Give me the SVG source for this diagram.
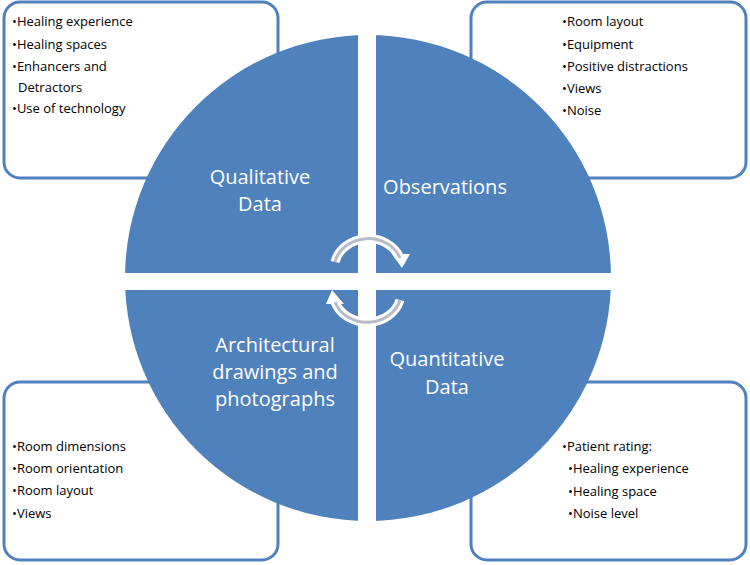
<svg xmlns="http://www.w3.org/2000/svg" width="750" height="565" viewBox="0 0 750 565">
<defs><style>
.box{fill:#fff;stroke:#4f81bd;stroke-width:3}
.q{fill:#4f81bd}
.t{font-family:"Open Sans","DejaVu Sans",sans-serif;font-size:13px;fill:#000}
.l{font-family:"Open Sans","DejaVu Sans",sans-serif;font-size:20px;fill:#fff;text-anchor:middle}
.aw{fill:none;stroke:#fff;stroke-width:9}
.ag{fill:none;stroke:#b8bcc8;stroke-width:3}
</style>
<clipPath id="c"><circle cx="368" cy="278" r="243"/></clipPath></defs>
<g id="box-tl"><rect class="box" x="4" y="2" width="274" height="176" rx="16"/>
<text class="t" x="12" y="26">•Healing experience</text><text class="t" x="12" y="49">•Healing spaces</text><text class="t" x="12" y="71">•Enhancers and</text><text class="t" x="18" y="92">Detractors</text><text class="t" x="12" y="113">•Use of technology</text></g>
<g id="box-tr"><rect class="box" x="471" y="2" width="275" height="176" rx="16"/>
<text class="t" x="562" y="26">•Room layout</text><text class="t" x="562" y="49">•Equipment</text><text class="t" x="562" y="71">•Positive distractions</text><text class="t" x="562" y="93">•Views</text><text class="t" x="562" y="115">•Noise</text></g>
<g id="box-bl"><rect class="box" x="4" y="382" width="274" height="178" rx="16"/>
<text class="t" x="12" y="451">•Room dimensions</text><text class="t" x="12" y="473">•Room orientation</text><text class="t" x="12" y="495">•Room layout</text><text class="t" x="12" y="518">•Views</text></g>
<g id="box-br"><rect class="box" x="471" y="382" width="275" height="178" rx="16"/>
<text class="t" x="562" y="451">•Patient rating:</text><text class="t" x="568" y="473">•Healing experience</text><text class="t" x="568" y="496">•Healing space</text><text class="t" x="568" y="518">•Noise level</text></g>
<g clip-path="url(#c)">
<g id="q-tl"><rect class="q" x="100" y="20" width="258" height="253"/><text class="l" x="260" y="184">Qualitative</text><text class="l" x="260" y="211">Data</text></g>
<g id="q-tr"><rect class="q" x="376" y="20" width="260" height="253"/><text class="l" x="445" y="194">Observations</text></g>
<g id="q-bl"><rect class="q" x="100" y="290" width="258" height="250"/><text class="l" x="275" y="352">Architectural</text><text class="l" x="275" y="379">drawings and</text><text class="l" x="275" y="406">photographs</text></g>
<g id="q-br"><rect class="q" x="376" y="290" width="260" height="250"/><text class="l" x="447" y="366">Quantitative</text><text class="l" x="447" y="394">Data</text></g>
</g>
<g id="connectors">
<path class="aw" d="M335 262 A34 30 0 0 1 400 258"/>
<path fill="#fff" d="M392 254 L410 254 L402 268 Z"/>
<path class="ag" d="M335 262 A34 30 0 0 1 400 258"/>
<path class="aw" d="M400 300 A34 30 0 0 1 335 302"/>
<path fill="#fff" d="M326 304 L344 304 L332 290 Z"/>
<path class="ag" d="M400 300 A34 30 0 0 1 335 302"/>
</g>
</svg>
